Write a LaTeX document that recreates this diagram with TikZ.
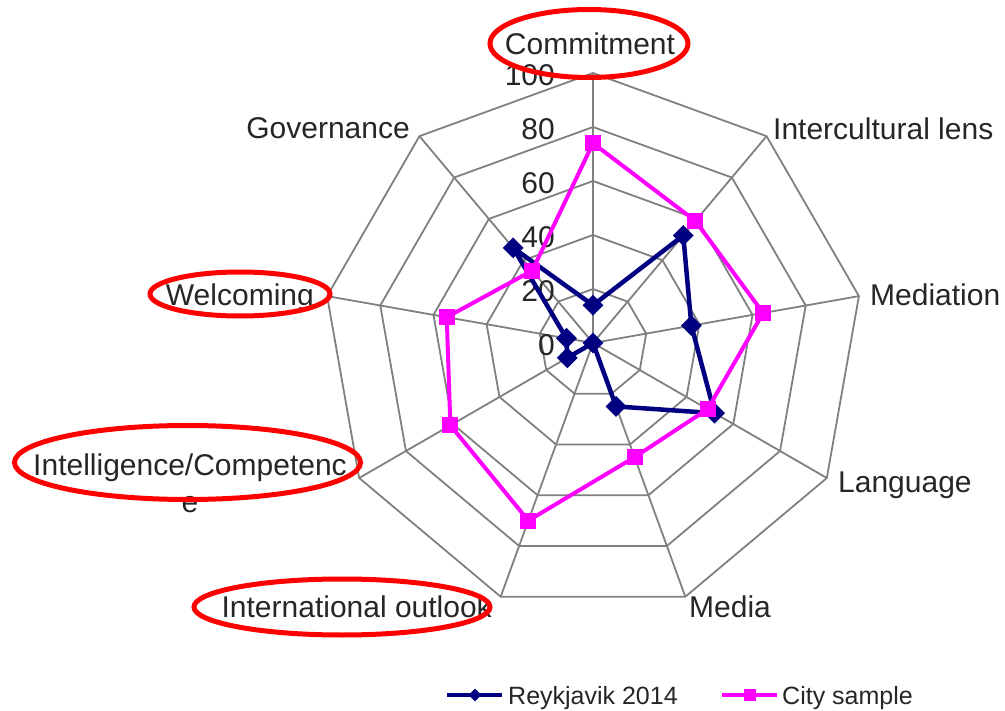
\documentclass[tikz,border=0pt]{standalone}
\usepackage{fontspec}
\setmainfont{Liberation Sans}
\usetikzlibrary{shapes.geometric}

\definecolor{marine}{HTML}{000080}
\definecolor{rose}{HTML}{FF00FF}

\begin{document}
\begin{tikzpicture}[x=1pt,y=1pt,
                    grille/.style={draw=black!50, line width=1.8pt},
                    intitule/.style={font=\fontsize{30}{37}\selectfont, text=black!85, inner sep=0pt},
                    graduation/.style={font=\fontsize{30}{37}\selectfont, text=black!85, inner sep=0pt, anchor=east},
                    legende/.style={font=\fontsize{25}{30}\selectfont, text=black!85, inner sep=0pt, anchor=base west},
                    reyk/.style={draw=marine, line width=4.5pt, line join=round},
                    city/.style={draw=rose, line width=4pt, line join=round},
                    losange/.style={diamond, fill=marine, inner sep=0pt, minimum size=21pt},
                    carre/.style={rectangle, fill=rose, inner sep=0pt, minimum size=16pt},
                    entoure/.style={draw=red, line width=5pt, ellipse, inner sep=0pt}]

	\useasboundingbox (0,0) rectangle (1005,-711);

	% the web
	\begin{scope}[shift={(593,-343)}]
	\foreach \r in {54,108,162,216,270}
		\draw[grille] (90:\r) \foreach \k in {1,...,8} { -- (90-40*\k:\r) } -- cycle;
	\foreach \k in {0,...,8}
		\coordinate (bout\k) at (90-40*\k:270);
	\coordinate (centre) at (0,0);
	\foreach \k in {0,...,8}
		\draw[grille] (centre) -- (bout\k);

	% data
	\foreach \v [count=\i from 0] in {14,52,37,52,25,0,11,10,46}
		\coordinate (R\i) at (90-40*\i:2.7*\v);
	\foreach \v [count=\i from 0] in {74,59,64,49,45,70,61,55,35}
		\coordinate (C\i) at (90-40*\i:2.7*\v);
	\end{scope}

	\foreach \v [count=\k from 0] in {0,20,40,60,80,100}
		\node[graduation] (grad\v) at (555,-345+54*\k) {\v};

	\draw[reyk] (R0) -- (R1) -- (R2) -- (R3) -- (R4) -- (R5) -- (R6) -- (R7) -- (R8) -- cycle;
	\foreach \i in {0,...,8}
		\node[losange] (pR\i) at (R\i) {};

	\draw[city] (C0) -- (C1) -- (C2) -- (C3) -- (C4) -- (C5) -- (C6) -- (C7) -- (C8) -- cycle;
	\foreach \i in {0,...,8}
		\node[carre] (pC\i) at (C\i) {};

	% axis names
	\node[intitule, anchor=base] (Commitment) at (590,-55) {Commitment};
	\node[intitule, anchor=base west] (Lens) at (773,-140) {Intercultural lens};
	\node[intitule, anchor=base west] (Mediation) at (870,-306) {Mediation};
	\node[intitule, anchor=base west] (Language) at (838,-493) {Language};
	\node[intitule, anchor=base west] (Media) at (689,-617) {Media};
	\node[intitule, anchor=base east] (Outlook) at (492,-617) {International outlook};
	\node[intitule, anchor=base, align=center] (Competence) at (190,-512) {Intelligence/Competenc\\e};
	\node[intitule, anchor=base east] (Welcoming) at (314,-306) {Welcoming};
	\node[intitule, anchor=base east] (Governance) at (410,-139) {Governance};

	% legend
	\coordinate (legR) at (447,-695);
	\node[legende] (txtR) at (508,-704) {Reykjavik 2014};
	\draw[reyk, line width=4pt, shorten >=6pt] (legR) -- (legR -| txtR.west);
	\node[losange, minimum size=13pt] (mkR) at (475,-695) {};

	\coordinate (legC) at (722,-695);
	\node[legende] (txtC) at (782,-704) {City sample};
	\draw[city, shorten >=5pt] (legC) -- (legC -| txtC.west);
	\node[carre, minimum size=12pt] (mkC) at (750,-695) {};

	% red marks
	\node[entoure, minimum width=198pt, minimum height=68pt] (ovCommitment) at (589,-43.5) {};
	\node[entoure, minimum width=180pt, minimum height=44pt] (ovWelcoming) at (240,-294) {};
	\node[entoure, minimum width=346pt, minimum height=74pt] (ovCompetence) at (187.5,-462.5) {};
	\node[entoure, minimum width=296pt, minimum height=56pt] (ovOutlook) at (342,-607) {};

\end{tikzpicture}
\end{document}
